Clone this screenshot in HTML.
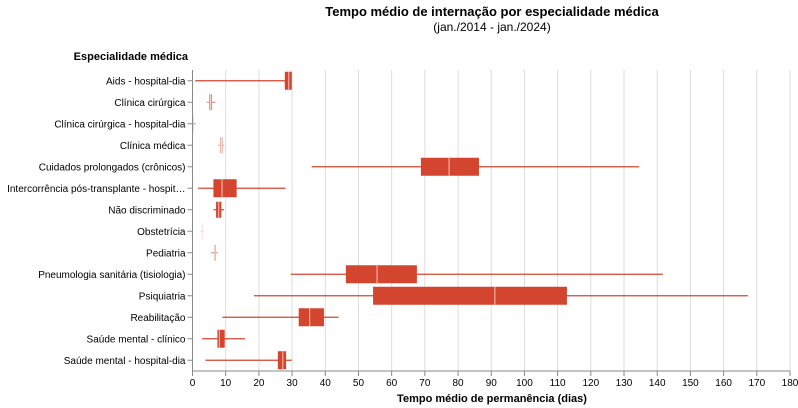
<!DOCTYPE html>
<html><head><meta charset="utf-8"><style>body{margin:0;background:#fff}svg{display:block;font-family:"Liberation Sans",Arial,sans-serif}</style></head>
<body>
<svg id="c" width="798" height="408">
<text x="492" y="16" text-anchor="middle" font-size="13" font-weight="bold" fill="#000">Tempo médio de internação por especialidade médica</text>
<text x="492" y="31" text-anchor="middle" font-size="12" fill="#000">(jan./2014 - jan./2024)</text>
<text x="188" y="60" text-anchor="end" font-size="11" font-weight="bold">Especialidade médica</text>
<text x="492" y="402" text-anchor="middle" font-size="11" font-weight="bold">Tempo médio de permanência (dias)</text>
<g id="grid"></g><g id="marks"></g><g id="axes"></g>
</svg>
<script>
const categories=["Aids - hospital-dia","Clínica cirúrgica","Clínica cirúrgica - hospital-dia","Clínica médica","Cuidados prolongados (crônicos)","Intercorrência pós-transplante - hospit…","Não discriminado","Obstetrícia","Pediatria","Pneumologia sanitária (tisiologia)","Psiquiatria","Reabilitação","Saúde mental - clínico","Saúde mental - hospital-dia"];
const whiskerLow=[0.8,4.3,0,7.7,35.9,1.7,6.3,2.5,5.6,29.6,18.5,9,2.9,3.9];
const q1=[27.8,5,0,8.3,68.8,6.3,7.1,2.8,6.5,46.2,54.4,32,7.5,25.7];
const median=[29,5.4,0.1,8.7,77.3,8.9,7.9,2.9,6.7,55.6,91.1,35.3,8.1,27.2];
const q3=[29.9,5.9,0.3,9.1,86.3,13.3,8.7,3,7,67.6,112.8,39.6,9.7,28.2];
const whiskerHigh=[29.9,7,1,9.6,134.5,28,9.5,3.3,7.6,141.7,167.3,44,15.8,29.9];
const opacityVals=[1,0.6,0.6,0.45,1,1,1,0.3,0.6,1,1,1,1,1];
const xTicks=[0,10,20,30,40,50,60,70,80,90,100,110,120,130,140,150,160,170,180];
const X0=192.5,X1=790,Y0=70,Y1=371,NS="http://www.w3.org/2000/svg";
const x=v=>X0+(v/180)*(X1-X0);
const band=(Y1-Y0)/categories.length;
const y=i=>Y0+band*(i+0.5);
function mk(t,a,p){const e=document.createElementNS(NS,t);for(const k in a)e.setAttribute(k,a[k]);p.appendChild(e);return e;}
const grid=document.getElementById('grid'),marks=document.getElementById('marks'),axes=document.getElementById('axes');
xTicks.forEach(t=>{
 const l=mk('line',{x1:x(t),x2:x(t),y1:Y0,y2:Y1,stroke:'#ddd'},grid);
 
 
 const tk=mk('line',{x1:x(t),x2:x(t),y1:Y1,y2:Y1+5,stroke:'#888'},axes);
 
 
 const tx=mk('text',{x:x(t),y:Y1+15,'text-anchor':'middle','font-size':10},axes);
 tx.textContent=t;
 
 
});
mk('line',{x1:X0,x2:X0,y1:Y0,y2:Y1,stroke:'#888'},axes);
mk('line',{x1:X0,x2:X1,y1:Y1,y2:Y1,stroke:'#888'},axes);
categories.forEach((c,i)=>{
 const cy=y(i);
 const tk=mk('line',{x1:X0-5,x2:X0,y1:cy,y2:cy,stroke:'#888'},axes);
 
 
 const tx=mk('text',{x:X0-7,y:cy+3.5,'text-anchor':'end','font-size':10},axes);
 tx.textContent=c;
 
 
 const g=mk('g',{opacity:opacityVals[i]},marks);
 
 
 mk('line',{x1:x(whiskerLow[i]),x2:x(whiskerHigh[i]),y1:cy,y2:cy,stroke:'#d44530','stroke-width':1.2},g);
 const small=(q3[i]-q1[i])<2;
 const h=small?16:18;
 mk('rect',{x:x(q1[i]),y:cy-h/2,width:Math.max(x(q3[i])-x(q1[i]),1),height:h,fill:'#d44530'},g);
 mk('line',{x1:x(median[i]),x2:x(median[i]),y1:cy-h/2,y2:cy+h/2,stroke:'#f4c4bb','stroke-width':1},g);
});
</script>
</body></html>
